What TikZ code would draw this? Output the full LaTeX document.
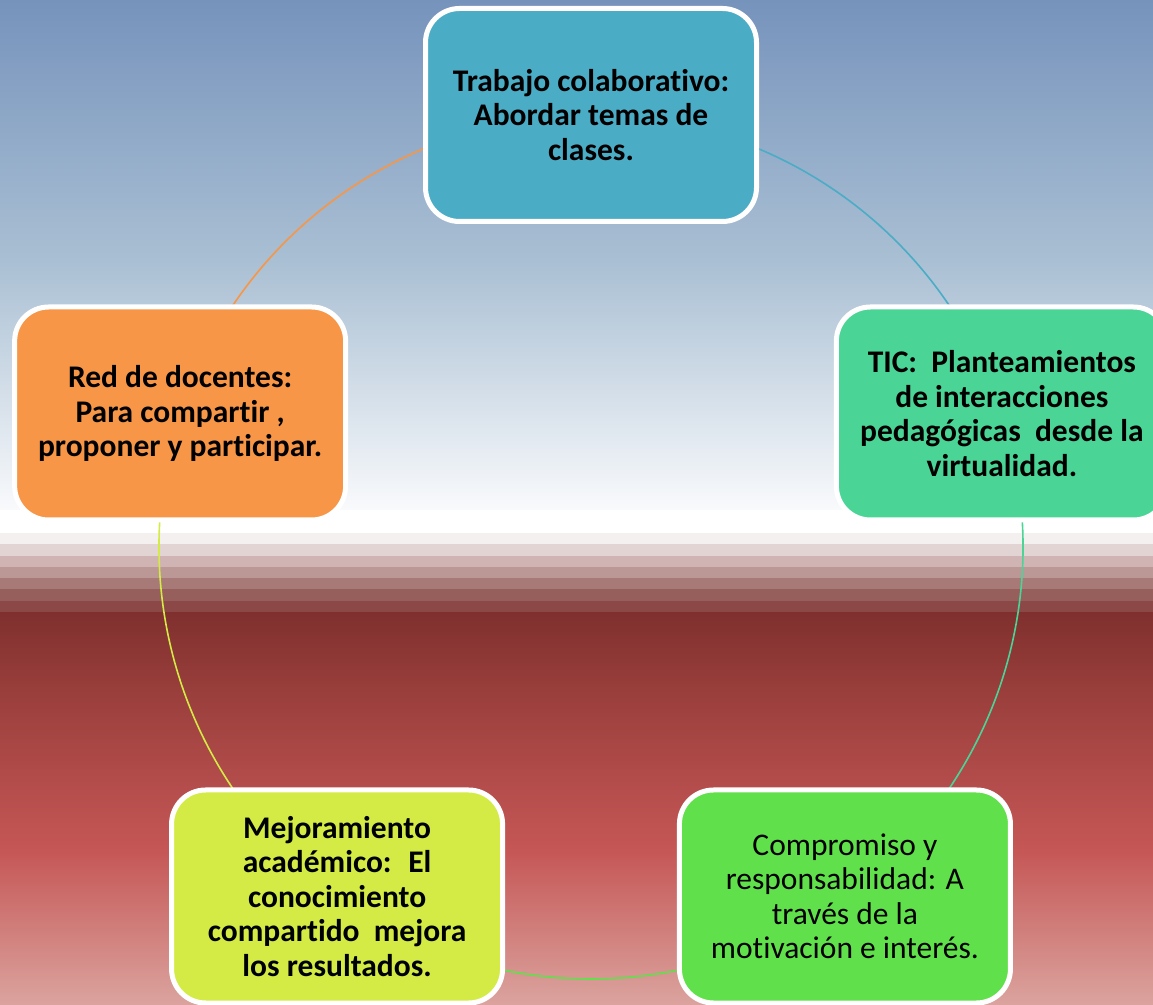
\documentclass[tikz,border=0pt]{standalone}
\usepackage{fontspec}
\setmainfont{Carlito}[Ligatures=NoCommon]
\usepackage{tikz}
\usetikzlibrary{positioning, calc}
\definecolor{skytop}{HTML}{7693BC}
\definecolor{skymid}{HTML}{A9BFD3}
\definecolor{skylow}{HTML}{F9FAFC}
\definecolor{band1}{HTML}{F4F0EF}
\definecolor{band2}{HTML}{E3D4D4}
\definecolor{band3}{HTML}{D0B4B4}
\definecolor{band4}{HTML}{BB9896}
\definecolor{band5}{HTML}{A87A77}
\definecolor{band6}{HTML}{975F5C}
\definecolor{band7}{HTML}{8B4846}
\definecolor{redA}{HTML}{7F302E}
\definecolor{redB}{HTML}{9C403D}
\definecolor{redC}{HTML}{C55756}
\definecolor{redD}{HTML}{DBA39E}
\definecolor{cTrabajo}{HTML}{4BACC6}
\definecolor{cTic}{HTML}{4AD596}
\definecolor{cCompromiso}{HTML}{60E04A}
\definecolor{cMejora}{HTML}{D4EB46}
\definecolor{cRed}{HTML}{F79646}
\pgfdeclarelayer{bg}
\pgfdeclarelayer{links}
\pgfsetlayers{bg,links,main}

\begin{document}
\begin{tikzpicture}[x=1pt,y=1pt]
\tikzset{
  box/.style={draw=white, line width=5pt, rounded corners=34pt,
    minimum width=331pt, minimum height=213pt, align=center,
    font=\fontsize{31.5}{34.5}\selectfont\bfseries, text=black},
  link/.style={line width=1.6pt}
}
\useasboundingbox (0,0) rectangle (1153,1004);
\clip (0,0) rectangle (1153,1004);

\coordinate (c) at (591,457);

\node[box, fill=cTrabajo] (trabajo) at ($(c)+(90:432)$) {Trabajo colaborativo:\\Abordar temas de\\clases.};
\node[box, fill=cTic] (tic) at ($(c)+(18:432)$) {TIC: ~Planteamientos\\de interacciones\\pedagógicas ~desde la\\virtualidad.};
\node[box, fill=cCompromiso, font=\fontsize{31.5}{34.5}\selectfont] (compromiso) at ($(c)+(-54:432)$) {Compromiso y\\responsabilidad: A\\través de la\\motivación e interés.};
\node[box, fill=cMejora] (mejora) at ($(c)+(-126:432)$) {Mejoramiento\\académico: ~El\\conocimiento\\compartido ~mejora\\los resultados.};
\node[box, fill=cRed] (red) at ($(c)+(162:432)$) {Red de docentes:\\Para compartir ,\\proponer y participar.};

\begin{pgfonlayer}{links}
\draw[link, cTrabajo] (trabajo.center) arc[start angle=90, end angle=18, radius=432];
\draw[link, cTic] (tic.center) arc[start angle=18, end angle=-54, radius=432];
\draw[link, cCompromiso] (compromiso.center) arc[start angle=-54, end angle=-126, radius=432];
\draw[link, cMejora] (mejora.center) arc[start angle=-126, end angle=-198, radius=432];
\draw[link, cRed] (red.center) arc[start angle=162, end angle=90, radius=432];
\end{pgfonlayer}

% background: sky, white strip, bands, red
\begin{pgfonlayer}{bg}
\shade[top color=skytop, bottom color=skymid] (0,744) rectangle (1153,1004);
\shade[top color=skymid, bottom color=skylow] (0,494) rectangle (1153,744);
\fill[white] (0,471) rectangle (1153,494);
\foreach \i in {1,...,7}
  \fill[band\i] (0,{471-11.3*(\i-1)}) rectangle (1153,{471-11.3*\i});
\shade[top color=redA, bottom color=redB] (0,304) rectangle (1153,391.9);
\shade[top color=redB, bottom color=redC] (0,154) rectangle (1153,304);
\shade[top color=redC, bottom color=redD] (0,0) rectangle (1153,154);
\end{pgfonlayer}
\end{tikzpicture}
\end{document}
